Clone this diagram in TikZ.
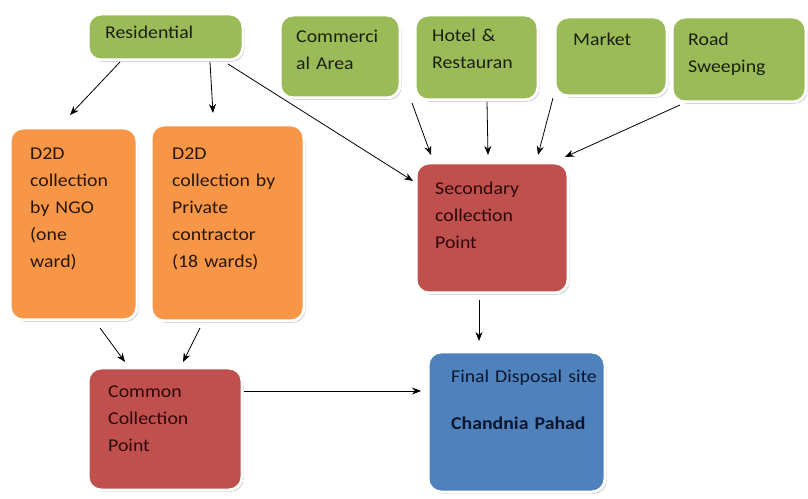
\documentclass[tikz,border=0pt]{standalone}
\usepackage{fontspec}
\setmainfont{Carlito}[FakeStretch=1.1]
\usetikzlibrary{arrows.meta,shadows,calc}
\definecolor{cgreen}{RGB}{155,187,89}
\definecolor{corange}{RGB}{247,150,70}
\definecolor{cred}{RGB}{192,80,77}
\definecolor{cblue}{RGB}{79,129,189}
\definecolor{tgreen}{RGB}{25,32,15}
\definecolor{tred}{RGB}{45,8,8}
\definecolor{tblue}{RGB}{12,22,45}
\definecolor{torange}{RGB}{40,22,8}
\tikzset{
  box/.style={draw=white, line width=3pt, rounded corners=13pt, anchor=north west,
    inner sep=0pt, outer sep=0pt,
    drop shadow={shadow xshift=1.5pt, shadow yshift=-1.8pt, opacity=0.35, fill=black!70}},
  gbox/.style={box, fill=cgreen},
  obox/.style={box, fill=corange},
  rbox/.style={box, fill=cred},
  bbox/.style={box, fill=cblue},
  lbl/.style={anchor=base west, inner sep=0pt, text width=170pt, align=left,
    font=\fontsize{18}{27}\selectfont},
  arr/.style={-{Stealth[length=9pt,width=7pt]}, line width=0.8pt, black}
}
\begin{document}
\begin{tikzpicture}[x=1pt,y=1pt]
\useasboundingbox (0,0) rectangle (808,498);
% boxes (x, 498-ytop)
\node[gbox, minimum width=155pt, minimum height=46pt] (res) at (88,484) {};
\node[gbox, minimum width=120pt, minimum height=83pt] (com) at (280,483) {};
\node[gbox, minimum width=123pt, minimum height=85pt] (hot) at (415,483) {};
\node[gbox, minimum width=112pt, minimum height=79pt] (mkt) at (555,481) {};
\node[gbox, minimum width=134pt, minimum height=85pt] (road) at (672,481) {};
\node[obox, minimum width=127pt, minimum height=192pt] (ngo) at (10,370) {};
\node[obox, minimum width=153pt, minimum height=196pt] (prv) at (151,373) {};
\node[rbox, minimum width=152pt, minimum height=130pt] (sec) at (416,335) {};
\node[rbox, minimum width=154pt, minimum height=122pt] (cmn) at (88,130) {};
\node[bbox, minimum width=177pt, minimum height=140pt] (fin) at (428,146) {};
% texts
\node[lbl, text=tgreen] (tres) at (105,459) {Residential};
\node[lbl, text=tgreen] (tcom) at (296,455) {Commerci\\al Area};
\node[lbl, text=tgreen] (thot) at (432,456) {Hotel \&\\Restauran};
\node[lbl, text=tgreen] (tmkt) at (573,452) {Market};
\node[lbl, text=tgreen] (troad) at (688,452) {Road\\Sweeping};
\node[lbl, text=torange] (tngo) at (30,338) {D2D\\collection\\by NGO\\(one\\ward)};
\node[lbl, text=torange] (tprv) at (172,338) {D2D\\collection by\\Private\\contractor\\(18 wards)};
\node[lbl, text=tred] (tsec) at (435,303) {Secondary\\collection\\Point};
\node[lbl, text=tred] (tcmn) at (108,100) {Common\\Collection\\Point};
\node[lbl, text=tblue] (tfin) at (451,115) {Final Disposal site\\[20pt]\textbf{Chandnia Pahad}};
% connectors
\draw[arr] ([xshift=32pt,yshift=-2pt]res.south west) -- ([xshift=60pt,yshift=13pt]ngo.north west);
\draw[arr] ([xshift=122pt,yshift=-2pt]res.south west) -- ([xshift=62pt,yshift=12pt]prv.north west);
\draw[arr] ([xshift=140pt,yshift=-4pt]res.south west) -- ([xshift=-3pt,yshift=-18pt]sec.north west);
\draw[arr] ([xshift=12pt,yshift=-5pt]com.south east) -- ([xshift=15pt,yshift=8pt]sec.north west);
\draw[arr] ([xshift=72pt,yshift=-2pt]hot.south west) -- ([xshift=72pt,yshift=8pt]sec.north west);
\draw[arr] ([xshift=-2pt,yshift=-2pt]mkt.south west) -- ([xshift=122pt,yshift=8pt]sec.north west);
\draw[arr] ([xshift=8pt,yshift=-3pt]road.south west) -- ([xshift=-3pt,yshift=6pt]sec.north east);
\draw[arr] ([xshift=90pt,yshift=-8pt]ngo.south west) -- ([xshift=37pt,yshift=6pt]cmn.north west);
\draw[arr] ([xshift=49pt,yshift=-7pt]prv.south west) -- ([xshift=95pt,yshift=6pt]cmn.north west);
\draw[arr] ([xshift=63pt,yshift=-7pt]sec.south west) -- ([xshift=51pt,yshift=11pt]fin.north west);
\draw[arr] ([xshift=2pt,yshift=-23pt]cmn.north east) -- ([xshift=-7pt,yshift=-39pt]fin.north west);
\end{tikzpicture}
\end{document}
